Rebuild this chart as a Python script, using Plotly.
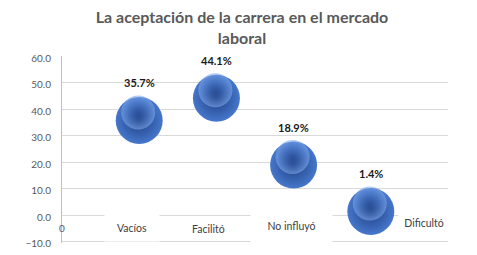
import plotly.graph_objects as go

# ---- data ----
categories = ["Vacíos", "Facilitó", "No influyó", "Dificultó"]
x_values = [1, 2, 3, 4]
values = [35.7, 44.1, 18.9, 1.4]
point_labels = ["35.7%", "44.1%", "18.9%", "1.4%"]
y_ticks = [-10, 0, 10, 20, 30, 40, 50, 60]
x_ticks = [0]
title_text = "La aceptación de la carrera en el mercado<br>laboral"

# ---- styles ----
FONT = "Lato"
GRAY = "#595959"
W, H = 469, 239          # page body adds an 8px margin around the figure
Y_RANGE = [-10.5, 60]
PX_Y = 186 / 70.0        # pixels per unit on the value axis
ML, MR, MT = 54, 29, 48
MB = H - MT - PX_Y * (Y_RANGE[1] - Y_RANGE[0])
PX_X = (W - ML - MR) / 5.0
# category text boxes: (xshift, yshift, box width, box height, background)
cat_style = [
    (-7, -13, 54, 26, "white"),
    (-8, -14, None, None, "rgba(0,0,0,0)"),
    (-2, -11, 81, 38, "white"),
    (53, -8, 50, 24, "white"),
]

fig = go.Figure()

# main spheres
fig.add_trace(go.Scatter(
    x=x_values, y=values, mode="markers",
    marker=dict(size=47, color="#4677cc",
                gradient=dict(type="radial", color="#1f3f82"),
                line=dict(width=0)),
    hoverinfo="skip", showlegend=False,
))
# soft highlight, drawn on slightly offset overlay axes
fig.add_trace(go.Scatter(
    x=x_values, y=values, mode="markers", xaxis="x2", yaxis="y2",
    marker=dict(size=34, color="rgba(128,170,236,0.6)",
                gradient=dict(type="radial", color="rgba(70,119,204,0)"),
                line=dict(width=0)),
    hoverinfo="skip", showlegend=False,
))

annotations = []
for xv, v, lab in zip(x_values, values, point_labels):
    annotations.append(dict(
        x=xv, y=v, xref="x", yref="y", text=lab, showarrow=False,
        yshift=38, font=dict(family=FONT, size=11, color="#1a1a1a", weight="bold"),
    ))
for xv, cat, (xs, ys, w, h, bg) in zip(x_values, categories, cat_style):
    a = dict(x=xv, y=0, xref="x", yref="y", text=cat, showarrow=False,
             xshift=xs, yshift=ys, bgcolor=bg, borderpad=0,
             font=dict(family=FONT, size=10.5, color="#404040"))
    if w:
        a["width"] = w
        a["height"] = h
    annotations.append(a)

fig.update_layout(
    width=W, height=H,
    margin=dict(l=ML, r=MR, t=MT, b=MB),
    paper_bgcolor="white", plot_bgcolor="white",
    title=dict(text=title_text, x=234 / W, xanchor="center", xref="container",
               y=1 - 15 / H, yanchor="middle", yref="container",
               font=dict(family=FONT, size=16, color=GRAY, weight="bold")),
    xaxis=dict(range=[0, 5], showgrid=False, zeroline=False, showline=False,
               anchor="free", position=(0 - Y_RANGE[0]) / (Y_RANGE[1] - Y_RANGE[0]),
               tickvals=x_ticks, ticktext=[str(t) for t in x_ticks], ticks="",
               ticklabelstandoff=6, automargin=False,
               tickfont=dict(family=FONT, size=10, color=GRAY)),
    yaxis=dict(range=Y_RANGE, tickvals=y_ticks, tickformat=".1f",
               showgrid=True, gridcolor="#d9d9d9", gridwidth=1,
               zeroline=False, showline=True, linecolor="#bfbfbf", linewidth=1,
               ticks="", ticklabelstandoff=8, ticklabelshift=2,
               ticklabeloverflow="allow", automargin=False,
               tickfont=dict(family=FONT, size=10, color=GRAY)),
    xaxis2=dict(range=[0 + 1 / PX_X, 5 + 1 / PX_X], overlaying="x", visible=False),
    yaxis2=dict(range=[Y_RANGE[0] - 8 / PX_Y, Y_RANGE[1] - 8 / PX_Y],
                overlaying="y", visible=False),
    annotations=annotations,
    showlegend=False,
)

fig.write_html("out.html")
